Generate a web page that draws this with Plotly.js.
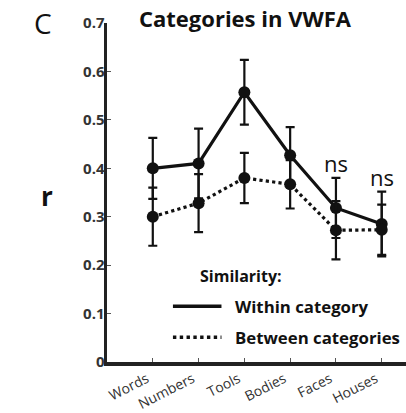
<!DOCTYPE html>
<html><head><meta charset="utf-8">
<script src="https://cdn.plot.ly/plotly-3.0.1.min.js"></script>
<style>html,body{margin:0;padding:0;background:#fff;}#chart{width:406px;height:413px;}</style>
</head><body><div id="chart"></div>
<script>
const categories = ["Words", "Numbers", "Tools", "Bodies", "Faces", "Houses"];
const withinMean = [0.400, 0.410, 0.557, 0.427, 0.318, 0.285];
const withinErr  = [0.063, 0.072, 0.067, 0.058, 0.062, 0.067];
const betweenMean = [0.300, 0.328, 0.380, 0.367, 0.272, 0.273];
const betweenErr  = [0.060, 0.060, 0.052, 0.050, 0.060, 0.052];
const nsLabels = ["", "", "", "", "ns", "ns"];
const yTicks = [0, 0.1, 0.2, 0.3, 0.4, 0.5, 0.6, 0.7];
const yTickText = ["0", "0.1", "0.2", "0.3", "0.4", "0.5", "0.6", "0.7"];

const xPos = categories.map((c, i) => i + 1);
const font = "Open Sans, Liberation Sans, sans-serif";

const traceWithin = {
  x: xPos, y: withinMean, type: "scatter", mode: "lines+markers",
  line: {color: "#111", width: 3.2},
  marker: {color: "#111", size: 12},
  error_y: {type: "data", array: withinErr, visible: true, color: "#111", thickness: 2.2, width: 4.5},
  showlegend: false
};
const traceBetween = {
  x: xPos, y: betweenMean, type: "scatter", mode: "lines+markers",
  line: {color: "#111", width: 3.2, dash: "dot"},
  marker: {color: "#111", size: 12},
  error_y: {type: "data", array: betweenErr, visible: true, color: "#111", thickness: 2.2, width: 4.5},
  showlegend: false
};

const annotations = [
  {xref: "paper", yref: "paper", x: 0.462, y: 1.015, xanchor: "center", yanchor: "middle",
   text: "<b>Categories in VWFA</b>", showarrow: false, font: {family: font, size: 22, color: "#111"}},
  {xref: "paper", yref: "paper", x: -0.215, y: 1.0, xanchor: "center", yanchor: "middle",
   text: "C", showarrow: false, font: {family: font, size: 28, color: "#111"}},
  {xref: "paper", yref: "paper", x: -0.20, y: 0.49, xanchor: "center", yanchor: "middle",
   text: "<b>r</b>", showarrow: false, font: {family: font, size: 26, color: "#111"}},
  {xref: "x", yref: "y", x: 2.93, y: 0.177, xanchor: "center", yanchor: "middle",
   text: "<b>Similarity:</b>", showarrow: false, font: {family: font, size: 16, color: "#111"}},
  {xref: "x", yref: "y", x: 2.75, y: 0.115, xanchor: "left", yanchor: "middle",
   text: "<b>Within category</b>", showarrow: false, font: {family: font, size: 16.8, color: "#111"}},
  {xref: "x", yref: "y", x: 2.75, y: 0.051, xanchor: "left", yanchor: "middle",
   text: "<b>Between categories</b>", showarrow: false, font: {family: font, size: 16.8, color: "#111"}}
];
nsLabels.forEach((t, i) => {
  if (t) annotations.push({xref: "x", yref: "y", x: xPos[i], y: withinMean[i] + withinErr[i],
    yanchor: "middle", yshift: 15, text: t, showarrow: false, font: {family: font, size: 22, color: "#111"}});
});

const shapes = [
  {type: "line", xref: "x", yref: "y", x0: 1.44, x1: 2.5, y0: 0.115, y1: 0.115, line: {color: "#111", width: 3.4}},
  {type: "line", xref: "x", yref: "y", x0: 1.44, x1: 2.5, y0: 0.051, y1: 0.051, line: {color: "#111", width: 3.4, dash: "dot"}}
];

const layout = {
  width: 406, height: 413,
  margin: {l: 107, r: 0, t: 23, b: 51},
  paper_bgcolor: "#fff", plot_bgcolor: "#fff",
  xaxis: {
    range: [0, 6.53], tickvals: xPos, ticktext: categories, tickangle: -27,
    showgrid: false, zeroline: false, showline: true, linecolor: "#222", linewidth: 3.5,
    ticks: "inside", ticklen: 4, tickcolor: "#555", tickwidth: 1,
    ticklabelshift: -6,
    tickfont: {family: font, size: 14, color: "#333"}, fixedrange: true
  },
  yaxis: {
    range: [0, 0.7], tickvals: yTicks, ticktext: yTickText.map(t => "<b>" + t + "</b>"),
    showgrid: false, zeroline: false, showline: true, linecolor: "#222", linewidth: 3.5,
    ticks: "inside", ticklen: 4, tickcolor: "#555", tickwidth: 1,
    ticklabelstandoff: -4,
    tickfont: {family: font, size: 15, color: "#333"}, fixedrange: true
  },
  annotations: annotations,
  shapes: shapes,
  showlegend: false
};

Plotly.newPlot("chart", [traceWithin, traceBetween], layout, {displayModeBar: false, staticPlot: true});
</script>
</body></html>
